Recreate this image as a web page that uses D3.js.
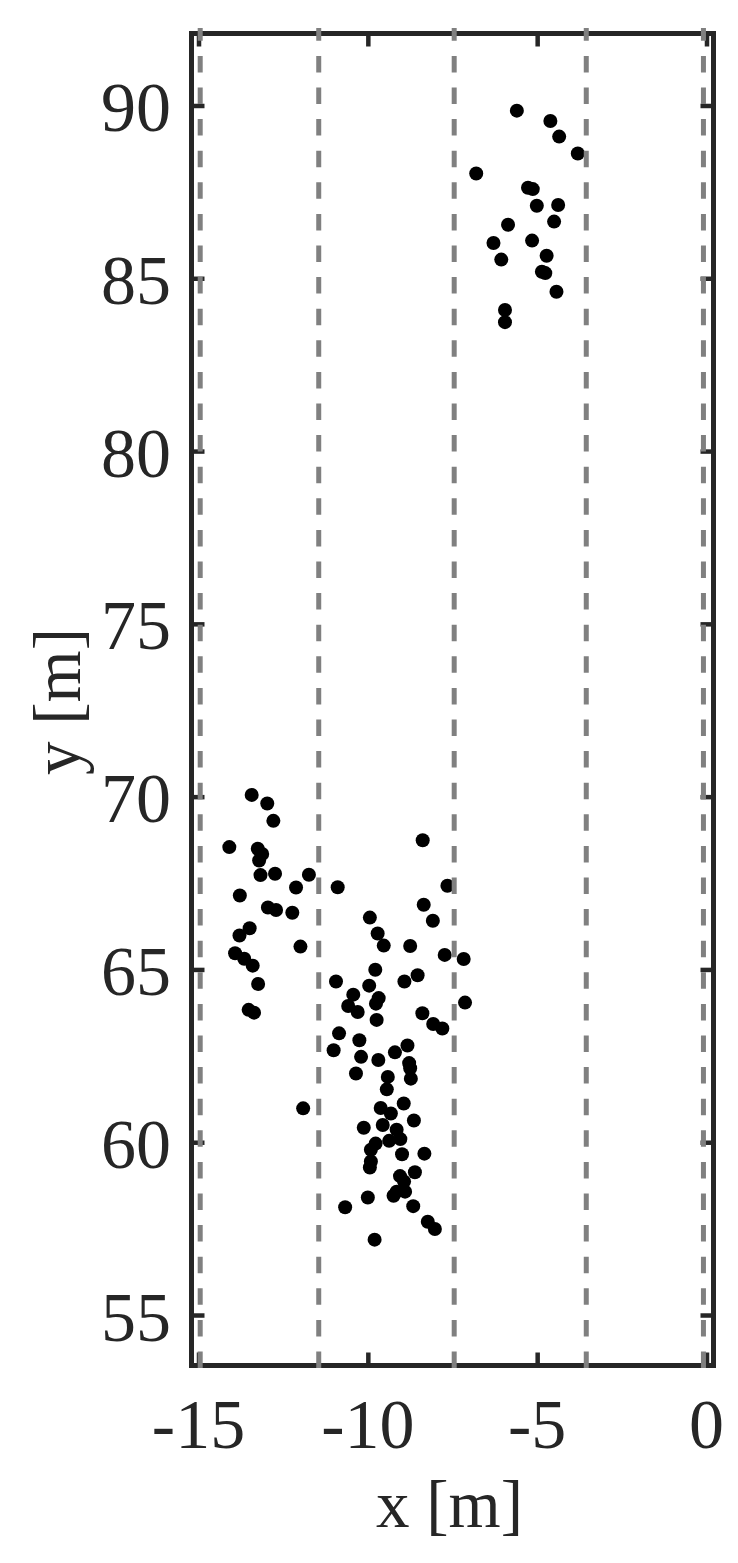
<!DOCTYPE html>
<html>
<head>
<meta charset="utf-8">
<script src="https://cdn.jsdelivr.net/npm/d3@7"></script>
<style>
html,body{margin:0;padding:0;background:#fff;}
svg{display:block;}
</style>
</head>
<body>
<script>
// ---- data ----
const xValues = [
 -5.60,-4.61,-4.35,-3.80,-6.80,-5.27,-5.13,-5.01,-4.38,-4.50,-5.86,-5.15,-6.29,-4.72,-6.06,-4.86,-4.76,-4.43,-5.95,-5.95,
 -13.43,-12.97,-12.79,-14.09,-13.25,-13.12,-13.21,-13.17,-12.74,-11.74,-12.12,-10.89,-13.78,-12.95,-12.71,-12.23,-13.49,-13.79,-11.99,-13.92,-13.65,-13.40,-10.94,-13.24,-13.52,-13.36,
 -8.38,-7.65,-8.35,-9.94,-8.08,-9.71,-9.53,-8.75,-7.73,-7.17,-9.78,-8.53,-8.92,-9.96,-10.43,-9.68,-9.76,-10.58,-10.30,-7.13,-8.39,-8.07,-7.80,-9.74,-10.85,-10.25,-11.01,-9.20,-8.83,
 -10.20,-9.69,-8.78,-8.75,-10.35,-9.41,-8.73,-9.44,-11.91,-9.62,-8.94,-9.32,-8.64,-10.12,-9.56,-9.15,-9.04,-9.37,-9.77,-9.91,-8.99,-8.33,-9.91,-9.94,-8.61,-9.05,-8.93,-8.90,-9.15,-9.24,-10.00,-10.67,-8.66,-8.23,-8.02,-9.80
];
const yValues = [
 89.85,89.55,89.10,88.61,88.03,87.62,87.58,87.10,87.12,86.64,86.55,86.09,86.02,85.65,85.54,85.19,85.15,84.61,84.08,83.73,
 70.05,69.80,69.30,68.54,68.49,68.34,68.15,67.73,67.77,67.74,67.37,67.38,67.14,66.79,66.72,66.64,66.19,65.98,65.66,65.47,65.31,65.11,64.65,64.58,63.83,63.75,
 68.74,67.42,66.87,66.50,66.41,66.04,65.69,65.68,65.42,65.30,64.99,64.83,64.65,64.53,64.27,64.17,64.01,63.94,63.77,64.04,63.73,63.42,63.29,63.54,63.15,62.95,62.66,62.60,62.80,
 62.47,62.38,62.29,62.14,61.99,61.89,61.84,61.53,60.98,60.99,61.12,60.83,60.63,60.42,60.50,60.36,60.09,60.04,59.96,59.78,59.65,59.67,59.44,59.27,59.13,59.02,58.86,58.57,58.57,58.45,58.40,58.12,58.15,57.70,57.49,57.18
];
const laneLines = [-14.95, -11.45, -7.45, -3.55, -0.09];
const xTicks = [-15, -10, -5, 0];
const yTicks = [55, 60, 65, 70, 75, 80, 85, 90];
const xDomain = [-15.207, 0.207];
const yDomain = [53.539, 92.083];
const xLabel = "x [m]";
const yLabel = "y [m]";

const points = xValues.map((x, i) => ({x, y: yValues[i]}));

// ---- layout ----
const W = 738, H = 1563;
const L = 191.5, R = 713.5, T = 33.5, B = 1365.5;
const ink = "#262626";
const font = "'Liberation Serif','Times New Roman',serif";
const fs = 70;

const svg = d3.select("body").append("svg").attr("width", W).attr("height", H);
svg.append("rect").attr("width", W).attr("height", H).attr("fill", "#fff");

const x = d3.scaleLinear().domain(xDomain).range([L, R]);
const y = d3.scaleLinear().domain(yDomain).range([B, T]);

const tickLen = 13;
const axB = svg.append("g").attr("transform", `translate(0,${B})`)
  .call(d3.axisBottom(x).tickValues(xTicks).tickSize(-tickLen).tickFormat(""));
const axT = svg.append("g").attr("transform", `translate(0,${T})`)
  .call(d3.axisTop(x).tickValues(xTicks).tickSize(-tickLen).tickFormat(""));
const axL = svg.append("g").attr("transform", `translate(${L},0)`)
  .call(d3.axisLeft(y).tickValues(yTicks).tickSize(-tickLen).tickFormat(""));
const axR = svg.append("g").attr("transform", `translate(${R},0)`)
  .call(d3.axisRight(y).tickValues(yTicks).tickSize(-tickLen).tickFormat(""));
[axB, axT, axL, axR].forEach(g => {
  g.select(".domain").remove();
  g.selectAll(".tick line").attr("stroke", ink).attr("stroke-width", 4.5);
});

// frame
svg.append("rect").attr("x", L).attr("y", T).attr("width", R - L).attr("height", B - T)
  .attr("fill", "none").attr("stroke", ink).attr("stroke-width", 5);

// tick labels
svg.append("g").selectAll("text").data(xTicks).join("text")
  .attr("x", d => x(d)).attr("y", 1448)
  .attr("text-anchor", "middle").attr("font-family", font).attr("font-size", fs).attr("fill", ink)
  .text(d => d < 0 ? "-" + Math.abs(d) : String(d));
svg.append("g").selectAll("text").data(yTicks).join("text")
  .attr("x", 171).attr("y", d => y(d) + 25.5)
  .attr("text-anchor", "end").attr("font-family", font).attr("font-size", fs).attr("fill", ink)
  .text(d => String(d));

// axis titles
svg.append("text").attr("x", (L + R) / 2 - 3).attr("y", 1527)
  .attr("text-anchor", "middle").attr("font-family", font).attr("font-size", fs - 3).attr("fill", ink)
  .text(xLabel);
svg.append("text").attr("transform", `translate(80,${(T + B) / 2 + 2}) rotate(-90)`)
  .attr("text-anchor", "middle").attr("font-family", font).attr("font-size", fs - 3).attr("fill", ink)
  .text(yLabel);

// points
svg.append("g").selectAll("circle").data(points).join("circle")
  .attr("cx", d => x(d.x)).attr("cy", d => y(d.y)).attr("r", 7).attr("fill", "#000");

// lane lines (dashed), drawn from bottom upward
svg.append("g").selectAll("line").data(laneLines).join("line")
  .attr("x1", d => x(d)).attr("x2", d => x(d))
  .attr("y1", B + 2.5).attr("y2", T - 5.5)
  .attr("stroke", "#808080").attr("stroke-width", 5)
  .attr("stroke-dasharray", "16.5,15.1");
</script>
</body>
</html>
